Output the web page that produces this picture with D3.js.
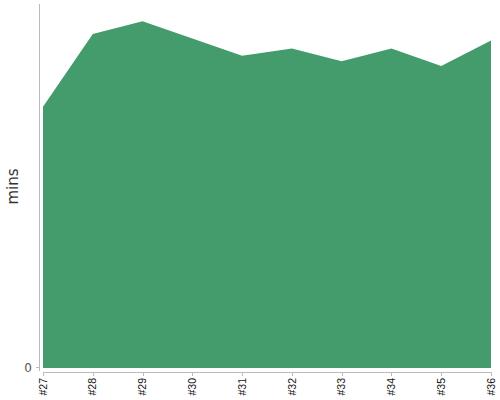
<!DOCTYPE html>
<html><head><meta charset="utf-8">
<script src="https://cdn.jsdelivr.net/npm/d3@7"></script>
<style>body{margin:0;background:#fff;font-family:"Liberation Sans",Arial,sans-serif;}</style>
</head><body><svg id="c" width="500" height="400"></svg>
<script>
const categories = ["#27","#28","#29","#30","#31","#32","#33","#34","#35","#36"];
const values = [28.7, 36.7, 38.1, 36.2, 34.3, 35.1, 33.7, 35.1, 33.2, 36.0];
const yTicks = [0];
const yMax = 40;

const svg = d3.select("#c").attr("font-family","Liberation Sans, Arial, sans-serif");
const x = d3.scalePoint().domain(categories).range([43, 491]);
const y = d3.scaleLinear().domain([0, yMax]).range([368, 4]);

const area = d3.area().x((d,i)=>x(categories[i])).y0(y(0)).y1(d=>y(d));
svg.append("path").datum(values).attr("d", area).attr("fill", "#449c6c");

// y axis
const ya = svg.append("g");
ya.append("line").attr("x1",39.5).attr("x2",39.5).attr("y1",4).attr("y2",371).attr("stroke","#bbb");
ya.selectAll("g.t").data(yTicks).join("g").each(function(d){
  const g = d3.select(this);
  g.append("line").attr("x1",36).attr("x2",39.5).attr("y1",y(d)-0.5).attr("y2",y(d)-0.5).attr("stroke","#bbb");
  g.append("text").attr("x",32).attr("y",y(d)).attr("dy","0.35em").attr("text-anchor","end")
   .attr("font-family","DejaVu Sans").attr("font-size",12).attr("fill","#555").text(d);
});
svg.append("text").attr("transform","translate(18,186.5) rotate(-90)").attr("text-anchor","middle")
  .attr("font-family","DejaVu Sans").attr("font-size",15).attr("fill","#333").text("mins");

// x axis
const xa = svg.append("g");
xa.append("line").attr("x1",x(categories[0])).attr("x2",x(categories[categories.length-1])).attr("y1",372.5).attr("y2",372.5).attr("stroke","#bbb");
xa.selectAll("g.t").data(categories).join("g").each(function(d){
  const g = d3.select(this);
  const px = Math.round(x(d)) + 0.5;
  g.append("line").attr("x1",px).attr("x2",px).attr("y1",372).attr("y2",376).attr("stroke","#bbb");
  g.append("text").attr("transform",`translate(${x(d)},378) rotate(-90)`).attr("text-anchor","end")
   .attr("dy","0.35em").attr("font-size",10.5).attr("fill","#111").text(d);
});
</script></body></html>
